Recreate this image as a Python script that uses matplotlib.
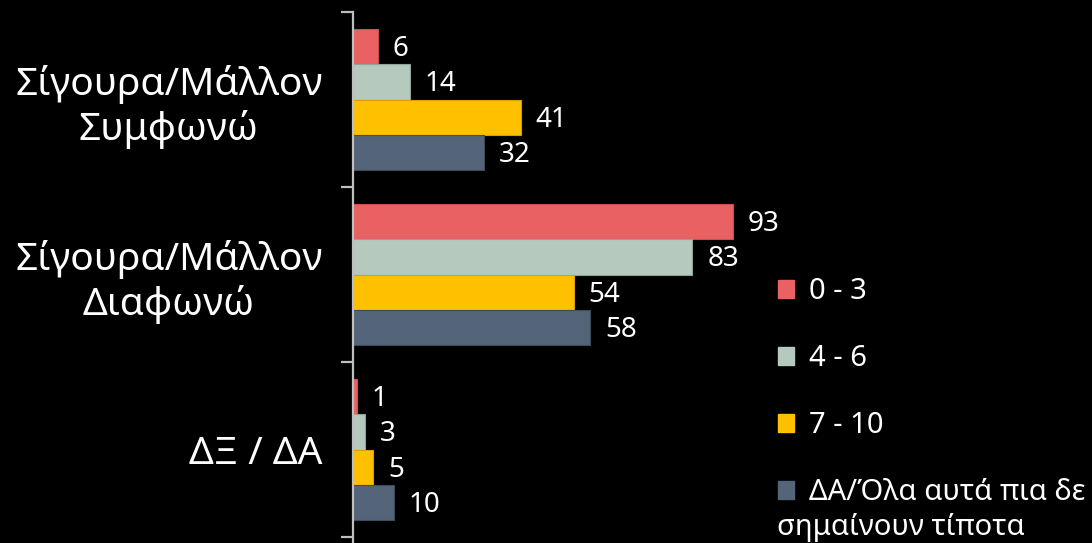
import matplotlib
matplotlib.use("Agg")
import matplotlib.pyplot as plt
from matplotlib.patches import Patch
import numpy as np

plt.rcParams['font.family'] = ['Noto Sans', 'DejaVu Sans']

categories = ["Σίγουρα/Μάλλον\nΣυμφωνώ", "Σίγουρα/Μάλλον\nΔιαφωνώ", "ΔΞ / ΔΑ"]
series_names = ["0 - 3", "4 - 6", "7 - 10", "ΔΑ/Όλα αυτά πια δε\nσημαίνουν τίποτα"]
vals_0_3 = [6, 93, 1]
vals_4_6 = [14, 83, 3]
vals_7_10 = [41, 54, 5]
vals_da = [32, 58, 10]
series_values = [vals_0_3, vals_4_6, vals_7_10, vals_da]
colors = ["#E96163", "#B5C9BF", "#FFC000", "#556579"]
edges = ["#C85050", "#8FA39A", "#D9A200", "#3E4B5A"]

W, H = 1092, 543
fig = plt.figure(figsize=(W / 100, H / 100), dpi=100, facecolor="black")
ax_left, ax_top, ax_bottom, ax_right = 353, 12, 537, 762
ax = fig.add_axes([ax_left / W, 1 - ax_bottom / H, (ax_right - ax_left) / W, (ax_bottom - ax_top) / H])
ax.set_facecolor("black")

n = len(categories)
y = np.arange(n)
bh = 0.202
offsets = (np.arange(4) - 1.5) * bh
for i in range(4):
    bars = ax.barh(y + offsets[i], series_values[i], height=bh, color=colors[i],
                   edgecolor=edges[i], linewidth=0.8, label=series_names[i])
    for b, v in zip(bars, series_values[i]):
        ax.text(b.get_width() + 3.6, b.get_y() + b.get_height() / 2 + 0.015, str(v),
                va="center", ha="left", color="white", fontsize=20)

ax.set_xlim(0, 100)
ax.set_ylim(2.5, -0.5)
ax.set_xticks([])
ax.set_yticks(y)
ax.set_yticklabels(categories, fontsize=28, color="white", linespacing=1.2)
for lab in ax.get_yticklabels():
    lab.set_multialignment("center")
ax.tick_params(axis="y", which="major", length=0, pad=22)
ax.set_yticks(np.arange(-0.5, n, 1.0), minor=True)
ax.tick_params(axis="y", which="minor", length=9, width=1.6, color="#BFBFBF", direction="out")
for s in ["top", "right", "bottom"]:
    ax.spines[s].set_visible(False)
ax.spines["left"].set_color("#BFBFBF")
ax.spines["left"].set_linewidth(1.6)
ax.spines["left"].set_bounds(-0.5, 2.6)

handles = [Patch(facecolor=c, edgecolor=c) for c in colors]
legend_labels = [s.split("\n")[0] for s in series_names]
leg = fig.legend(handles, legend_labels, loc="upper left", bbox_to_anchor=(755 / W, 1 - 254 / H),
                 frameon=False, fontsize=21, labelcolor="white", handlelength=0.55,
                 handleheight=0.55, handletextpad=0.5, labelspacing=1.3, borderpad=0.3)
fig.canvas.draw()
last = leg.get_texts()[-1]
bb = last.get_window_extent()
yc = (bb.y0 + bb.y1) / 2 - 35
fig.text(777 / W, yc / H, series_names[-1].split("\n")[1], color="white",
         fontsize=21, ha="left", va="center")

fig.savefig("out.png", dpi=100, facecolor="black")
